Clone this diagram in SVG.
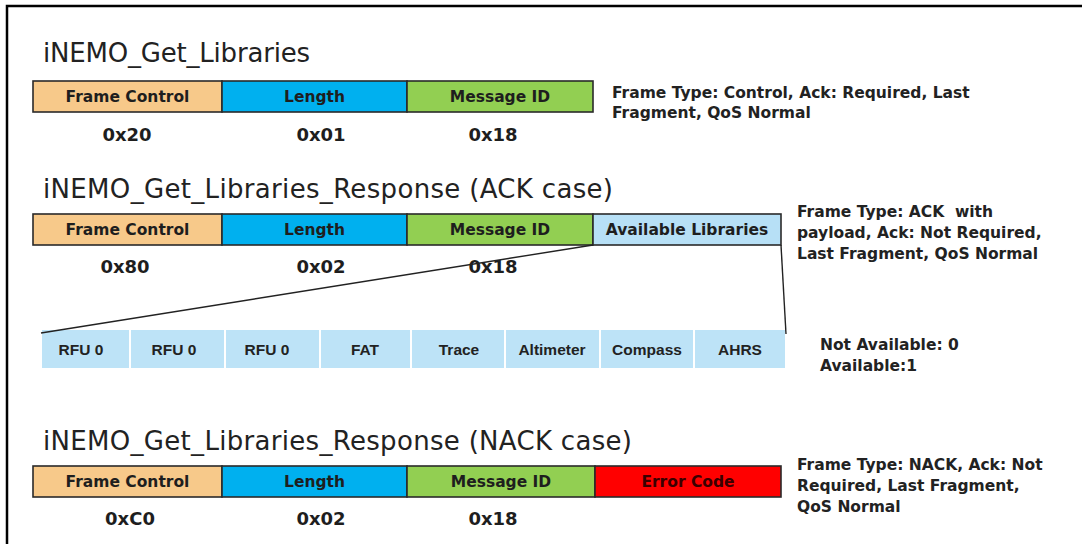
<svg xmlns="http://www.w3.org/2000/svg" width="1082" height="544" viewBox="0 0 1082 544">
<style>
.title{font-family:"DejaVu Sans",Verdana,sans-serif;font-size:26px;fill:#222}
.lbl{font-family:"DejaVu Sans",Verdana,sans-serif;font-size:15.5px;font-weight:bold;fill:#1e1e1e;text-anchor:middle}
.val{font-family:"DejaVu Sans",Verdana,sans-serif;font-size:18px;font-weight:bold;fill:#1e1e1e;text-anchor:middle}
.desc{font-family:"DejaVu Sans",Verdana,sans-serif;font-size:15.5px;font-weight:bold;fill:#222;white-space:pre}
.cell{fill:#BDE3F7;stroke:#fff;stroke-width:2}
.clbl{font-family:"Liberation Sans",Arial,sans-serif;font-size:15.5px;font-weight:bold;fill:#222;text-anchor:middle}
.box{stroke:#2a2a2a;stroke-width:1.6}
.fc{fill:#F7C98A}.len{fill:#00B0EF}.mid{fill:#92CF52}.avl{fill:#B7E0F6}.err{fill:#FF0000}
.conn{stroke:#222;stroke-width:1.4;fill:none}
</style>
<rect width="1082" height="544" fill="#fff"/>
<path d="M7 544 V6 H1082" fill="none" stroke="#000" stroke-width="2.5"/>

<g id="msg-get-libraries">
<text class="title" x="43" y="62" textLength="267">iNEMO_Get_Libraries</text>
<rect class="box fc" x="33" y="81" width="189" height="31"/>
<rect class="box len" x="222" y="81" width="185" height="31"/>
<rect class="box mid" x="407" y="81" width="186" height="31"/>
<text class="lbl" x="127.5" y="102">Frame Control</text>
<text class="lbl" x="314.5" y="102">Length</text>
<text class="lbl" x="500" y="102">Message ID</text>
<text class="val" x="127" y="141">0x20</text>
<text class="val" x="321" y="141">0x01</text>
<text class="val" x="493" y="141">0x18</text>
<text class="desc" x="612" y="98">Frame Type: Control, Ack: Required, Last</text>
<text class="desc" x="612" y="118">Fragment, QoS Normal</text>
</g>

<g id="msg-ack-response">
<text class="title" x="43" y="198" textLength="570">iNEMO_Get_Libraries_Response (ACK case)</text>
<rect class="box fc" x="33" y="214" width="189" height="31"/>
<rect class="box len" x="222" y="214" width="185" height="31"/>
<rect class="box mid" x="407" y="214" width="186" height="31"/>
<rect class="box avl" x="593" y="214" width="188" height="31"/>
<text class="lbl" x="127.5" y="235">Frame Control</text>
<text class="lbl" x="314.5" y="235">Length</text>
<text class="lbl" x="500" y="235">Message ID</text>
<text class="lbl" x="687" y="235">Available Libraries</text>
<text class="val" x="125" y="273">0x80</text>
<text class="val" x="321" y="273">0x02</text>
<text class="val" x="493" y="273">0x18</text>
<text class="desc" x="797" y="217" xml:space="preserve">Frame Type: ACK  with</text>
<text class="desc" x="797" y="238">payload, Ack: Not Required,</text>
<text class="desc" x="797" y="259">Last Fragment, QoS Normal</text>
</g>

<g id="libraries-bitfield">
<rect class="cell" x="41" y="329" width="89" height="40"/>
<rect class="cell" x="130" y="329" width="95" height="40"/>
<rect class="cell" x="225" y="329" width="95" height="40"/>
<rect class="cell" x="320" y="329" width="91" height="40"/>
<rect class="cell" x="411" y="329" width="94" height="40"/>
<rect class="cell" x="505" y="329" width="95" height="40"/>
<rect class="cell" x="600" y="329" width="94" height="40"/>
<rect class="cell" x="694" y="329" width="92" height="40"/>
<text class="clbl" x="81" y="355">RFU 0</text>
<text class="clbl" x="174" y="355">RFU 0</text>
<text class="clbl" x="267" y="355">RFU 0</text>
<text class="clbl" x="365" y="355">FAT</text>
<text class="clbl" x="459" y="355">Trace</text>
<text class="clbl" x="552" y="355">Altimeter</text>
<text class="clbl" x="647" y="355">Compass</text>
<text class="clbl" x="740" y="355">AHRS</text>
<text class="desc" x="820" y="350">Not Available: 0</text>
<text class="desc" x="820" y="371">Available:1</text>
</g>

<g id="connectors">
<line class="conn" x1="593" y1="245" x2="41" y2="333"/>
<line class="conn" x1="781" y1="245" x2="786" y2="334"/>
</g>

<g id="msg-nack-response">
<text class="title" x="43" y="450" textLength="589">iNEMO_Get_Libraries_Response (NACK case)</text>
<rect class="box fc" x="33" y="466" width="189" height="31"/>
<rect class="box len" x="222" y="466" width="185" height="31"/>
<rect class="box mid" x="407" y="466" width="188" height="31"/>
<rect class="box err" x="595" y="466" width="186" height="31"/>
<text class="lbl" x="127.5" y="487">Frame Control</text>
<text class="lbl" x="314.5" y="487">Length</text>
<text class="lbl" x="501" y="487">Message ID</text>
<text class="lbl" x="688" y="487" style="fill:#3a0000">Error Code</text>
<text class="val" x="130" y="525">0xC0</text>
<text class="val" x="321" y="525">0x02</text>
<text class="val" x="493" y="525">0x18</text>
<text class="desc" x="797" y="470">Frame Type: NACK, Ack: Not</text>
<text class="desc" x="797" y="491">Required, Last Fragment,</text>
<text class="desc" x="797" y="512">QoS Normal</text>
</g>
</svg>
